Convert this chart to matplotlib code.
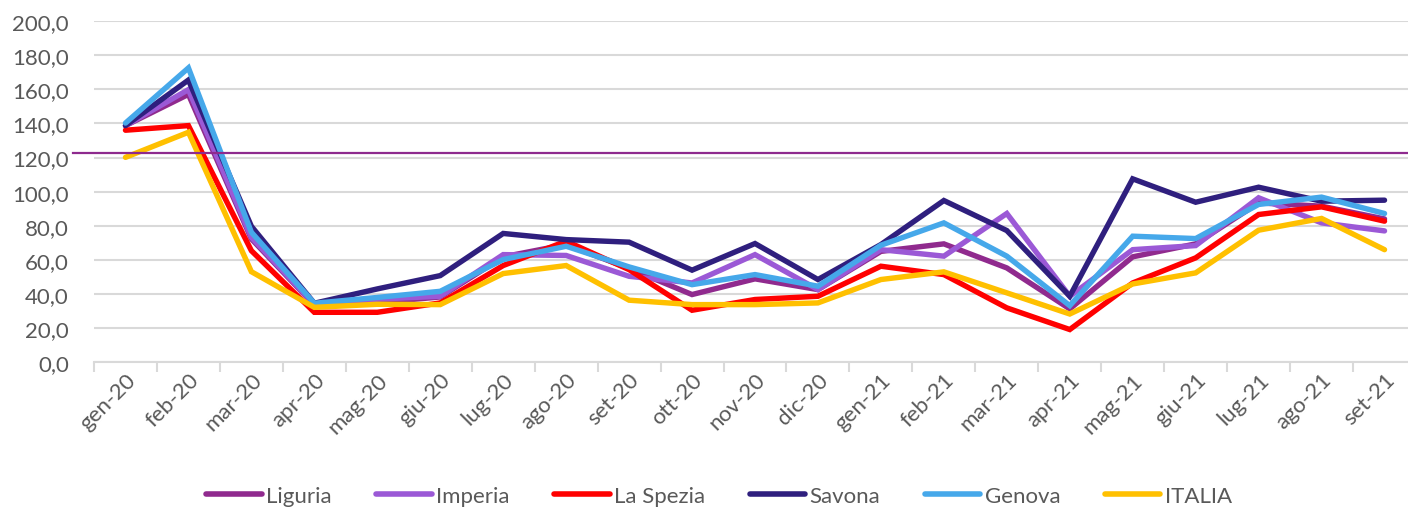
import matplotlib.pyplot as plt
import matplotlib.transforms as mtransforms

plt.rcParams['font.family'] = ['Lato', 'DejaVu Sans']

# months
months = ['gen-20', 'feb-20', 'mar-20', 'apr-20', 'mag-20', 'giu-20', 'lug-20',
          'ago-20', 'set-20', 'ott-20', 'nov-20', 'dic-20', 'gen-21', 'feb-21',
          'mar-21', 'apr-21', 'mag-21', 'giu-21', 'lug-21', 'ago-21', 'set-21']

liguria = [138.7, 157.0, 72.3, 33.6, 35.0, 38.3, 61.8, 69.0, 55.0, 39.7, 48.9,
           42.6, 65.0, 69.4, 55.3, 31.3, 61.8, 69.4, 93.4, 91.5, 84.0]
imperia = [138.7, 159.8, 73.2, 34.0, 37.0, 38.7, 63.1, 62.6, 50.4, 46.5, 63.1,
           42.6, 66.0, 62.2, 87.2, 38.7, 66.0, 68.4, 96.4, 81.7, 77.0]
la_spezia = [136.0, 138.7, 65.4, 29.3, 29.3, 34.8, 56.7, 71.0, 54.3, 30.5, 36.8,
             38.7, 56.3, 51.4, 31.9, 19.2, 46.5, 61.2, 86.6, 91.1, 82.7]
savona = [138.7, 165.4, 79.7, 34.6, 43.0, 50.8, 75.5, 71.9, 70.4, 54.0, 69.6,
          48.5, 69.0, 94.8, 77.2, 38.7, 107.5, 93.8, 102.6, 94.4, 95.0]
genova = [140.2, 172.5, 76.2, 34.6, 38.0, 41.6, 60.2, 68.0, 55.9, 45.5, 51.4,
          44.6, 68.6, 81.7, 62.2, 33.2, 73.9, 72.5, 92.5, 96.8, 87.2]
italia = [120.1, 134.8, 53.1, 32.2, 34.0, 33.8, 52.0, 56.7, 36.4, 33.8, 33.8,
          34.8, 48.5, 53.0, 40.7, 28.3, 45.9, 52.4, 77.4, 84.3, 66.0]

ref_level = 122.6

series = [('Liguria', liguria, '#902A8E'),
          ('Imperia', imperia, '#9B59D6'),
          ('La Spezia', la_spezia, '#FF0000'),
          ('Savona', savona, '#2F1F7E'),
          ('Genova', genova, '#46A8EA'),
          ('ITALIA', italia, '#FFC000')]

fig = plt.figure(figsize=(14.08, 5.10), dpi=100)
ax = fig.add_axes([94 / 1408, 1 - 363.3 / 510, 1322 / 1408, 341.3 / 510])

x = list(range(len(months)))
for name, vals, col in series:
    ax.plot(x, vals, color=col, lw=3.9, label=name, solid_capstyle='round',
            solid_joinstyle='miter', zorder=3)

# reference line, starts left of the axis
trans = mtransforms.blended_transform_factory(fig.transFigure, ax.transData)
ax.plot([73 / 1408, 1.0], [ref_level, ref_level], color='#8E2A8E', lw=1.6,
        transform=trans, clip_on=False, zorder=4)

ax.set_xlim(-0.5, len(months) - 0.5)
ax.set_ylim(0, 200)
ax.set_yticks(range(0, 201, 20))
ax.set_yticklabels([f'{v},0' for v in range(0, 201, 20)])
ax.yaxis.grid(True, color='#D9D9D9', lw=1.5, zorder=0)
ax.set_axisbelow(True)

ax.set_xticks(x)
ax.set_xticklabels(months, rotation=45, ha='right', rotation_mode='anchor')
ax.set_xticks([i - 0.5 for i in range(len(months) + 1)], minor=True)
ax.tick_params(axis='x', which='major', length=0, pad=5, labelsize=16,
               labelcolor='#595959')
ax.tick_params(axis='x', which='minor', length=7, width=1.5, color='#D9D9D9')
ax.tick_params(axis='y', length=0, pad=18, labelsize=16, labelcolor='#595959')

for s in ['top', 'right', 'left']:
    ax.spines[s].set_visible(False)
ax.spines['bottom'].set_color('#D9D9D9')
ax.spines['bottom'].set_linewidth(1.5)

leg = fig.legend(loc='center', bbox_to_anchor=(719 / 1408, 1 - 497 / 510), ncol=6,
                 frameon=False, fontsize=16, handlelength=2.5, handletextpad=0.2,
                 columnspacing=2.0, borderaxespad=0)
for t in leg.get_texts():
    t.set_color('#595959')
for h in leg.legend_handles:
    h.set_linewidth(4)

fig.savefig('out.png', dpi=100)
